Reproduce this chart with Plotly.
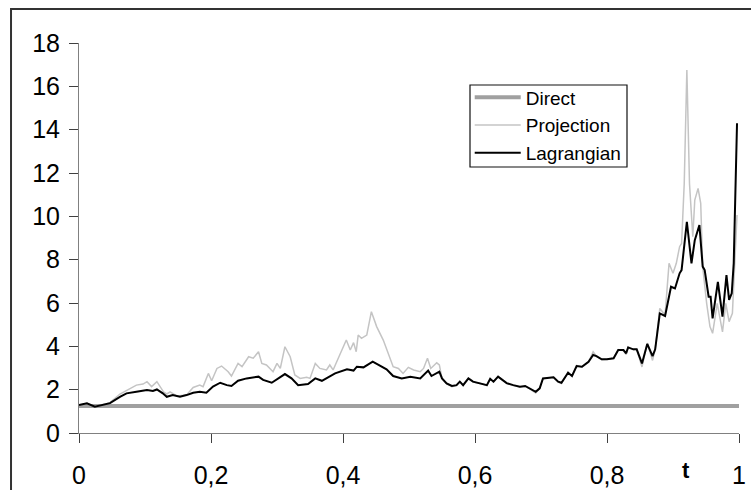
import plotly.graph_objects as go

# ---- data ----
t_direct = [0.0, 1.0]
v_direct = [1.25, 1.25]

t_lag = [0.000, 0.012, 0.024, 0.036, 0.047, 0.062, 0.072, 0.087, 0.103, 0.112,
         0.118, 0.127, 0.133, 0.142, 0.153, 0.163, 0.173, 0.183, 0.193, 0.203,
         0.214, 0.224, 0.231, 0.241, 0.254, 0.272, 0.279, 0.292, 0.302, 0.312,
         0.322, 0.332, 0.347, 0.358, 0.368, 0.375, 0.388, 0.406, 0.416, 0.421,
         0.431, 0.445, 0.456, 0.466, 0.476, 0.489, 0.502, 0.517, 0.529, 0.534,
         0.546, 0.550, 0.557, 0.565, 0.572, 0.577, 0.582, 0.590, 0.597, 0.610,
         0.618, 0.623, 0.628, 0.635, 0.648, 0.658, 0.668, 0.676, 0.683, 0.692,
         0.698, 0.703, 0.719, 0.726, 0.731, 0.741, 0.747, 0.754, 0.762, 0.772,
         0.779, 0.784, 0.792, 0.800, 0.810, 0.817, 0.825, 0.829, 0.832, 0.840,
         0.845, 0.853, 0.861, 0.869, 0.873, 0.880, 0.888, 0.897, 0.903, 0.910,
         0.913, 0.921, 0.928, 0.933, 0.940, 0.945, 0.948, 0.954, 0.957, 0.960,
         0.968, 0.975, 0.981, 0.985, 0.989, 0.992, 0.997]
v_lag = [1.29, 1.37, 1.21, 1.30, 1.38, 1.67, 1.83, 1.90, 1.98, 1.94,
         2.01, 1.83, 1.67, 1.75, 1.67, 1.75, 1.86, 1.90, 1.86, 2.14,
         2.32, 2.21, 2.17, 2.41, 2.52, 2.60, 2.45, 2.32, 2.52, 2.72,
         2.52, 2.21, 2.26, 2.52, 2.41, 2.52, 2.75, 2.94, 2.88, 3.06,
         3.03, 3.29, 3.09, 2.94, 2.63, 2.52, 2.60, 2.52, 2.88, 2.63,
         2.83, 2.52, 2.29, 2.17, 2.21, 2.37, 2.21, 2.52, 2.37, 2.29,
         2.21, 2.50, 2.37, 2.60, 2.30, 2.21, 2.14, 2.17, 2.06, 1.90,
         2.06, 2.52, 2.57, 2.37, 2.32, 2.78, 2.63, 3.09, 3.06, 3.29,
         3.60, 3.55, 3.40, 3.40, 3.45, 3.83, 3.83, 3.68, 3.95, 3.86,
         3.86, 3.21, 4.11, 3.55, 3.86, 5.52, 5.40, 6.75, 6.67, 7.37,
         7.52, 9.75, 7.83, 8.90, 9.60, 7.68, 7.52, 6.29, 6.29, 5.29,
         6.98, 5.37, 7.29, 6.14, 6.45, 7.83, 14.3]

t_proj = [0.000, 0.012, 0.024, 0.036, 0.047, 0.062, 0.077, 0.087, 0.097, 0.103,
          0.110, 0.118, 0.128, 0.133, 0.138, 0.148, 0.163, 0.173, 0.183, 0.188,
          0.196, 0.201, 0.209, 0.216, 0.226, 0.231, 0.241, 0.247, 0.257, 0.264,
          0.272, 0.277, 0.284, 0.294, 0.300, 0.305, 0.312, 0.320, 0.327, 0.335,
          0.345, 0.350, 0.358, 0.365, 0.375, 0.380, 0.385, 0.395, 0.405, 0.411,
          0.416, 0.420, 0.423, 0.428, 0.436, 0.443, 0.451, 0.461, 0.469, 0.476,
          0.484, 0.491, 0.499, 0.507, 0.517, 0.522, 0.528, 0.533, 0.542, 0.546,
          0.550, 0.557, 0.565, 0.572, 0.577, 0.582, 0.590, 0.597, 0.610, 0.618,
          0.623, 0.628, 0.635, 0.648, 0.658, 0.668, 0.676, 0.683, 0.692, 0.698,
          0.703, 0.719, 0.726, 0.731, 0.741, 0.747, 0.754, 0.762, 0.772, 0.779,
          0.784, 0.792, 0.800, 0.810, 0.817, 0.825, 0.829, 0.832, 0.840, 0.845,
          0.853, 0.861, 0.869, 0.873, 0.880, 0.888, 0.894, 0.900, 0.905, 0.910,
          0.913, 0.917, 0.921, 0.925, 0.930, 0.933, 0.938, 0.942, 0.945, 0.951,
          0.956, 0.960, 0.967, 0.975, 0.980, 0.985, 0.990, 0.994, 0.997]
v_proj = [1.29, 1.37, 1.21, 1.30, 1.40, 1.80, 2.06, 2.21, 2.26, 2.37,
          2.14, 2.37, 1.90, 1.80, 1.90, 1.71, 1.75, 2.10, 2.21, 2.14,
          2.75, 2.41, 2.98, 3.09, 2.83, 2.63, 3.21, 3.06, 3.52, 3.45,
          3.75, 3.21, 3.14, 2.83, 3.21, 2.98, 3.98, 3.52, 2.68, 2.52,
          2.57, 2.52, 3.21, 2.98, 2.91, 3.14, 2.91, 3.60, 4.29, 3.83,
          4.17, 3.75, 4.52, 4.37, 4.52, 5.60, 4.91, 4.29, 3.60, 3.06,
          2.98, 2.75, 3.03, 2.91, 2.83, 2.98, 3.45, 2.98, 3.24, 3.14,
          2.52, 2.27, 2.14, 2.19, 2.37, 2.19, 2.52, 2.35, 2.27, 2.19,
          2.50, 2.35, 2.60, 2.28, 2.19, 2.12, 2.15, 2.04, 1.85, 2.06,
          2.52, 2.57, 2.35, 2.28, 2.80, 2.60, 3.12, 3.04, 3.27, 3.75,
          3.55, 3.38, 3.40, 3.45, 3.85, 3.80, 3.62, 3.97, 3.84, 3.86,
          3.05, 4.15, 3.35, 3.86, 5.75, 5.45, 7.83, 7.37, 7.83, 8.60,
          8.75, 11.5, 16.75, 11.5, 9.06, 10.75, 11.29, 10.6, 7.68, 5.98,
          4.91, 4.60, 5.98, 4.67, 5.98, 5.14, 5.52, 7.83, 10.06]

x_tick_vals = [0, 0.2, 0.4, 0.6, 0.8, 1.0]
x_tick_text = ["0", "0,2", "0,4", "0,6", "0,8", "1"]
y_tick_vals = [0, 2, 4, 6, 8, 10, 12, 14, 16, 18]
y_tick_text = ["0", "2", "4", "6", "8", "10", "12", "14", "16", "18"]

FONT = "Arial, 'Liberation Sans', sans-serif"

fig = go.Figure()
fig.add_trace(go.Scatter(x=t_direct, y=v_direct, mode="lines", name="Direct",
                         line=dict(color="#a0a0a0", width=4)))
fig.add_trace(go.Scatter(x=t_proj, y=v_proj, mode="lines", name="Projection",
                         line=dict(color="#c4c4c4", width=1.5)))
fig.add_trace(go.Scatter(x=t_lag, y=v_lag, mode="lines", name="Lagrangian",
                         line=dict(color="#000000", width=2)))

fig.update_layout(
    width=751, height=490,
    margin=dict(l=79, r=12, t=43, b=57, autoexpand=False),
    paper_bgcolor="white", plot_bgcolor="white",
    font=dict(family=FONT, color="black"),
    showlegend=True,
    legend=dict(x=0.592, y=0.909, xanchor="left", yanchor="top",
                borderwidth=0, bgcolor="rgba(0,0,0,0)",
                font=dict(size=19, family=FONT), itemwidth=46,
                tracegroupgap=0),
    xaxis=dict(range=[0, 1], tickvals=x_tick_vals, ticktext=x_tick_text,
               showgrid=False, zeroline=False, showline=True, automargin=False,
               linecolor="#808080", linewidth=1,
               ticks="outside", ticklen=9, tickcolor="#404040",
               tickfont=dict(size=25, family=FONT), ticklabelstandoff=11),
    yaxis=dict(range=[0, 18], tickvals=y_tick_vals, ticktext=y_tick_text,
               showgrid=False, zeroline=False, showline=True, automargin=False,
               linecolor="#808080", linewidth=1,
               ticks="outside", ticklen=9, tickcolor="#404040",
               tickfont=dict(size=25, family=FONT), ticklabelstandoff=4),
    shapes=[
        dict(type="rect", xref="paper", yref="paper",
             x0=-0.103, x1=1.03, y0=-0.2, y1=1.087,
             line=dict(color="#333333", width=2), layer="below"),
        dict(type="rect", xref="paper", yref="paper",
             x0=(470 - 79) / 660, x1=(627 - 79) / 660,
             y0=(433 - 167) / 390, y1=(433 - 85) / 390,
             line=dict(color="#111111", width=1.2), fillcolor="white",
             layer="below"),
    ],
    annotations=[dict(text="<b>t</b>", xref="paper", yref="paper",
                      x=(686 - 79) / 660, y=(433 - 470) / 390,
                      xanchor="center", yanchor="middle", showarrow=False,
                      font=dict(size=22, family=FONT, color="black"))],
)

fig.write_html("out.html", config={"displayModeBar": False},
               post_script="document.body.style.margin='0';document.body.style.padding='0';")
